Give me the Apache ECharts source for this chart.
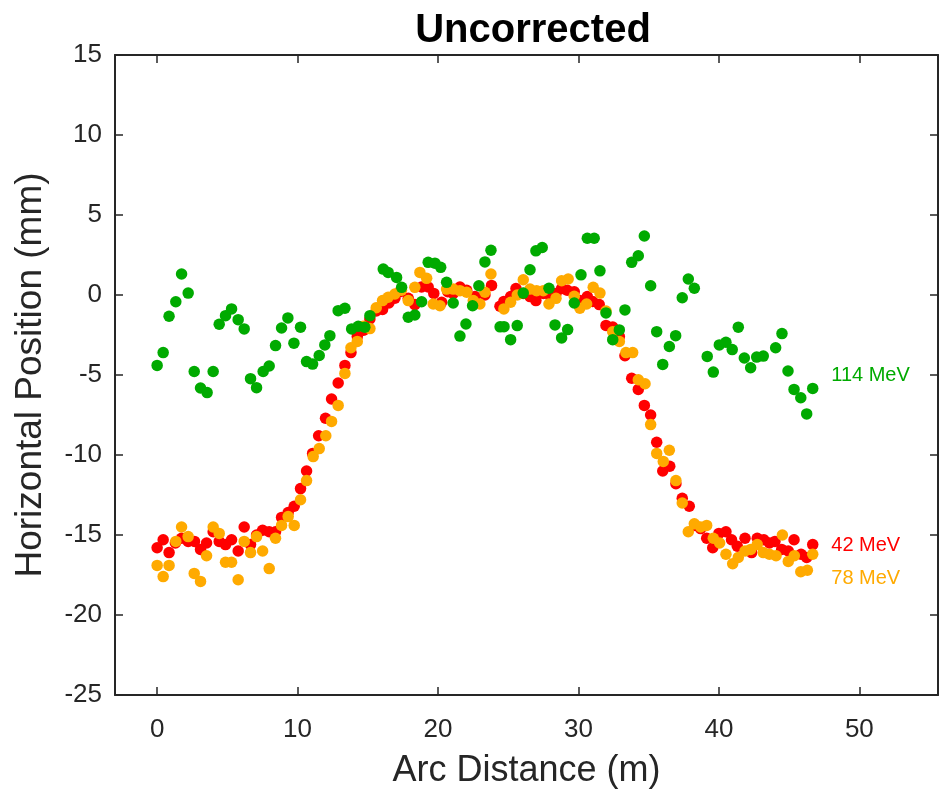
<!DOCTYPE html>
<html>
<head>
<meta charset="utf-8">
<script src="https://cdn.jsdelivr.net/npm/echarts@6/dist/echarts.min.js"></script>
<style>
  html, body { margin: 0; padding: 0; background: #fff; }
  #chart { width: 940px; height: 794px; }
</style>
</head>
<body>
<div id="chart"></div>
<script>
// 数据：弧长 (m) 与水平位置 (mm)
const mev42 = [
  [0.0, -15.8], [0.43, -15.3], [0.85, -16.1], [1.3, -15.5], [1.74, -15.2], [2.21, -15.4],
  [2.66, -15.4], [3.09, -15.9], [3.52, -15.5], [3.99, -14.8], [4.42, -15.4], [4.87, -15.6],
  [5.3, -15.3], [5.77, -16.0], [6.2, -14.5], [6.65, -15.6], [7.08, -15.0], [7.51, -14.7],
  [7.98, -14.8], [8.43, -14.8], [8.86, -13.9], [9.33, -13.6], [9.76, -13.2], [10.21, -12.1],
  [10.64, -11.0], [11.07, -9.9], [11.5, -8.8], [11.99, -7.7], [12.42, -6.5], [12.89, -5.5],
  [13.37, -4.4], [13.8, -3.6], [14.25, -2.6], [14.7, -2.2], [15.15, -1.5], [15.6, -1.0],
  [16.05, -0.9], [16.5, -0.5], [16.93, -0.2], [17.29, 0.2], [17.88, -0.2], [18.35, -0.6],
  [18.83, 0.5], [19.3, 0.5], [19.7, 0.1], [20.26, -0.45], [20.7, 0.2], [21.08, 0.1],
  [21.56, 0.5], [22.04, 0.3], [22.63, -0.1], [23.34, 0.0], [23.81, 0.6], [24.41, -0.7],
  [24.69, -0.4], [25.17, -0.1], [25.55, 0.4], [26.07, 0.1], [26.55, -0.1], [26.97, -0.35],
  [27.5, 0.1], [28.02, -0.1], [28.4, 0.1], [28.8, 0.4], [29.2, 0.3], [29.7, 0.2],
  [30.1, -0.35], [30.63, -0.1], [31.01, -0.4], [31.48, -0.6], [31.96, -1.9], [32.44, -2.0],
  [32.91, -2.6], [33.31, -3.8], [33.79, -5.2], [34.26, -5.9], [34.69, -6.9], [35.14, -7.5],
  [35.57, -9.2], [36.0, -11.0], [36.5, -10.7], [36.94, -11.8], [37.39, -12.7], [37.89, -13.2],
  [38.3, -14.4], [38.7, -14.6], [39.13, -15.2], [39.56, -15.8], [40.0, -14.9], [40.5, -14.8],
  [40.9, -15.3], [41.31, -15.7], [41.86, -15.2], [42.33, -16.1], [42.73, -15.2], [43.2, -15.3],
  [43.6, -15.5], [43.99, -15.4], [44.47, -15.9], [44.94, -16.0], [45.35, -15.3], [45.85, -16.2],
  [46.25, -16.4], [46.68, -15.6]
]
const mev78 = [
  [0.0, -16.9], [0.43, -17.6], [0.85, -16.9], [1.33, -15.4], [1.74, -14.5], [2.21, -15.1],
  [2.64, -17.4], [3.09, -17.9], [3.52, -16.3], [3.99, -14.5], [4.42, -14.9], [4.87, -16.7],
  [5.3, -16.7], [5.77, -17.8], [6.2, -15.4], [6.65, -16.1], [7.08, -15.1], [7.51, -16.0],
  [7.98, -17.1], [8.43, -15.2], [8.86, -14.4], [9.33, -13.85], [9.76, -14.4], [10.21, -12.8],
  [10.64, -11.6], [11.11, -10.1], [11.54, -9.6], [12.01, -8.8], [12.42, -7.9], [12.89, -6.9],
  [13.37, -4.9], [13.8, -3.3], [14.25, -2.9], [14.67, -1.95], [15.15, -2.1], [15.6, -0.8],
  [16.05, -0.35], [16.45, -0.14], [16.93, 0.06], [17.4, 0.3], [17.88, -0.35], [18.35, 0.48],
  [18.71, 1.41], [19.19, 1.04], [19.66, -0.56], [20.14, -0.67], [20.61, 0.37], [21.08, 0.37],
  [21.56, 0.27], [22.04, 0.17], [22.51, -0.35], [22.98, -0.56], [23.34, 0.17], [23.77, 1.31],
  [24.69, -0.87], [25.17, -0.45], [25.64, 0.0], [26.07, 0.95], [26.55, 0.37], [27.02, 0.27],
  [27.5, 0.27], [27.9, -0.56], [28.4, -0.21], [28.8, 0.89], [29.27, 1.0], [29.7, -0.08],
  [30.1, -0.83], [30.58, -0.56], [31.05, 0.48], [31.53, 0.12], [31.96, -1.0], [32.44, -2.3],
  [32.91, -2.9], [33.38, -3.6], [33.86, -3.6], [34.26, -5.3], [34.74, -5.55], [35.14, -8.1],
  [35.57, -9.9], [36.04, -10.4], [36.47, -9.7], [36.94, -11.6], [37.39, -13.0], [37.82, -14.8],
  [38.25, -14.3], [38.7, -14.5], [39.13, -14.4], [39.6, -15.2], [40.05, -15.5], [40.5, -16.2],
  [40.98, -16.8], [41.38, -16.4], [41.86, -16.0], [42.26, -15.9], [42.73, -15.6], [43.16, -16.1],
  [43.6, -16.2], [44.07, -16.3], [44.52, -15.0], [44.94, -16.65], [45.37, -16.3], [45.83, -17.3],
  [46.3, -17.2], [46.68, -16.2]
]
const mev114 = [
  [0.0, -4.4], [0.43, -3.6], [0.85, -1.33], [1.33, -0.42], [1.74, 1.31], [2.21, 0.12],
  [2.64, -4.78], [3.09, -5.81], [3.56, -6.1], [3.99, -4.78], [4.42, -1.83], [4.87, -1.29],
  [5.3, -0.87], [5.77, -1.54], [6.2, -2.12], [6.65, -5.23], [7.08, -5.79], [7.55, -4.78],
  [7.98, -4.44], [8.43, -3.16], [8.86, -2.06], [9.31, -1.43], [9.74, -3.01], [10.21, -2.01],
  [10.64, -4.16], [11.07, -4.32], [11.54, -3.78], [11.94, -3.12], [12.3, -2.54], [12.89, -0.98],
  [13.37, -0.83], [13.85, -2.12], [14.32, -1.95], [14.79, -2.01], [15.15, -1.29], [16.1, 1.62],
  [16.45, 1.41], [17.05, 1.1], [17.41, 0.48], [17.88, -1.39], [18.35, -1.25], [18.83, -0.42],
  [19.3, 2.04], [19.78, 1.99], [20.19, 1.73], [20.61, 0.79], [21.08, -0.5], [21.56, -2.57],
  [21.99, -1.81], [22.46, -0.67], [22.91, 0.58], [23.34, 2.07], [23.77, 2.8], [24.42, -1.99],
  [24.7, -1.98], [25.17, -2.79], [25.64, -1.91], [26.07, 0.12], [26.55, 1.58], [26.97, 2.76],
  [27.42, 2.97], [27.9, 0.42], [28.33, -1.87], [28.8, -2.68], [29.23, -2.16], [29.7, -0.5],
  [30.18, 1.26], [30.63, 3.55], [31.12, 3.55], [31.53, 1.51], [31.96, -1.12], [32.44, -2.79],
  [32.91, -2.18], [33.31, -0.93], [33.79, 2.04], [34.26, 2.45], [34.69, 3.69], [35.14, 0.58],
  [35.57, -2.29], [36.0, -4.34], [36.47, -3.22], [36.92, -2.54], [37.39, -0.17], [37.82, 1.0],
  [38.25, 0.42], [39.17, -3.84], [39.6, -4.82], [40.03, -3.12], [40.5, -2.95], [40.95, -3.41],
  [41.38, -2.01], [41.81, -3.94], [42.26, -4.55], [42.69, -3.88], [43.16, -3.82], [44.04, -3.3],
  [44.49, -2.41], [44.92, -4.75], [45.35, -5.9], [45.83, -6.42], [46.25, -7.43], [46.68, -5.84]
]
const xTicks = [0, 10, 20, 30, 40, 50]
const seriesNames = ['42 MeV', '78 MeV', '114 MeV']
const labelY = [-15.65, -17.7, -5.05] // 右侧标注的纵坐标

const colors = ['#ff0000', '#ffaa00', '#00aa00']
const axisColor = '#262626'
const font = 'Liberation Sans, Arial, sans-serif'

const myChart = echarts.init(document.getElementById('chart'), null, { renderer: 'canvas' })

function makeSeries(name, data, color, ly) {
  return {
    name: name,
    type: 'scatter',
    data: data,
    symbol: 'circle',
    symbolSize: 11.5,
    itemStyle: { color: color, opacity: 1 },
    silent: true,
    markPoint: {
      symbol: 'circle',
      symbolSize: 0,
      silent: true,
      data: [{
        coord: [48.0, ly],
        label: {
          show: true,
          position: 'right',
          distance: 0,
          formatter: name,
          color: color,
          fontSize: 20,
          fontFamily: font
        }
      }]
    }
  }
}

const option = {
  animation: false,
  backgroundColor: '#fff',
  title: {
    text: 'Uncorrected',
    left: 528,
    top: 6,
    textAlign: 'center',
    textStyle: { fontSize: 40, fontWeight: 'bold', color: '#000', fontFamily: font }
  },
  grid: { left: 115, right: 2, top: 55, bottom: 98 },
  xAxis: [
    {
      type: 'value',
      min: -3,
      max: 55.6,
      position: 'bottom',
      name: 'Arc Distance (m)',
      nameLocation: 'middle',
      nameGap: 58,
      nameTextStyle: { fontSize: 36, color: axisColor, fontFamily: font },
      axisLine: { show: true, onZero: false, lineStyle: { color: axisColor, width: 2 } },
      axisTick: { show: true, inside: true, length: 8, customValues: xTicks, lineStyle: { color: axisColor, width: 1.5 } },
      axisLabel: { customValues: xTicks, margin: 22, fontSize: 26, color: axisColor, fontFamily: font },
      splitLine: { show: false }
    },
    {
      type: 'value',
      min: -3,
      max: 55.6,
      position: 'top',
      axisLine: { show: true, onZero: false, lineStyle: { color: axisColor, width: 2 } },
      axisTick: { show: true, inside: true, length: 8, customValues: xTicks, lineStyle: { color: axisColor, width: 1.5 } },
      axisLabel: { show: false },
      splitLine: { show: false }
    }
  ],
  yAxis: [
    {
      type: 'value',
      min: -25,
      max: 15,
      interval: 5,
      position: 'left',
      name: 'Horizontal Position (mm)',
      nameLocation: 'middle',
      nameGap: 66,
      nameTextStyle: { fontSize: 37, color: axisColor, fontFamily: font },
      axisLine: { show: true, onZero: false, lineStyle: { color: axisColor, width: 2 } },
      axisTick: { show: true, inside: true, length: 8, lineStyle: { color: axisColor, width: 1.5 } },
      axisLabel: { margin: 13, fontSize: 26, color: axisColor, fontFamily: font },
      splitLine: { show: false }
    },
    {
      type: 'value',
      min: -25,
      max: 15,
      interval: 5,
      position: 'right',
      axisLine: { show: true, onZero: false, lineStyle: { color: axisColor, width: 2 } },
      axisTick: { show: true, inside: true, length: 8, lineStyle: { color: axisColor, width: 1.5 } },
      axisLabel: { show: false },
      splitLine: { show: false }
    }
  ],
  series: [
    makeSeries(seriesNames[0], mev42, colors[0], labelY[0]),
    makeSeries(seriesNames[1], mev78, colors[1], labelY[1]),
    makeSeries(seriesNames[2], mev114, colors[2], labelY[2])
  ]
}
myChart.setOption(option)
</script>
</body>
</html>
